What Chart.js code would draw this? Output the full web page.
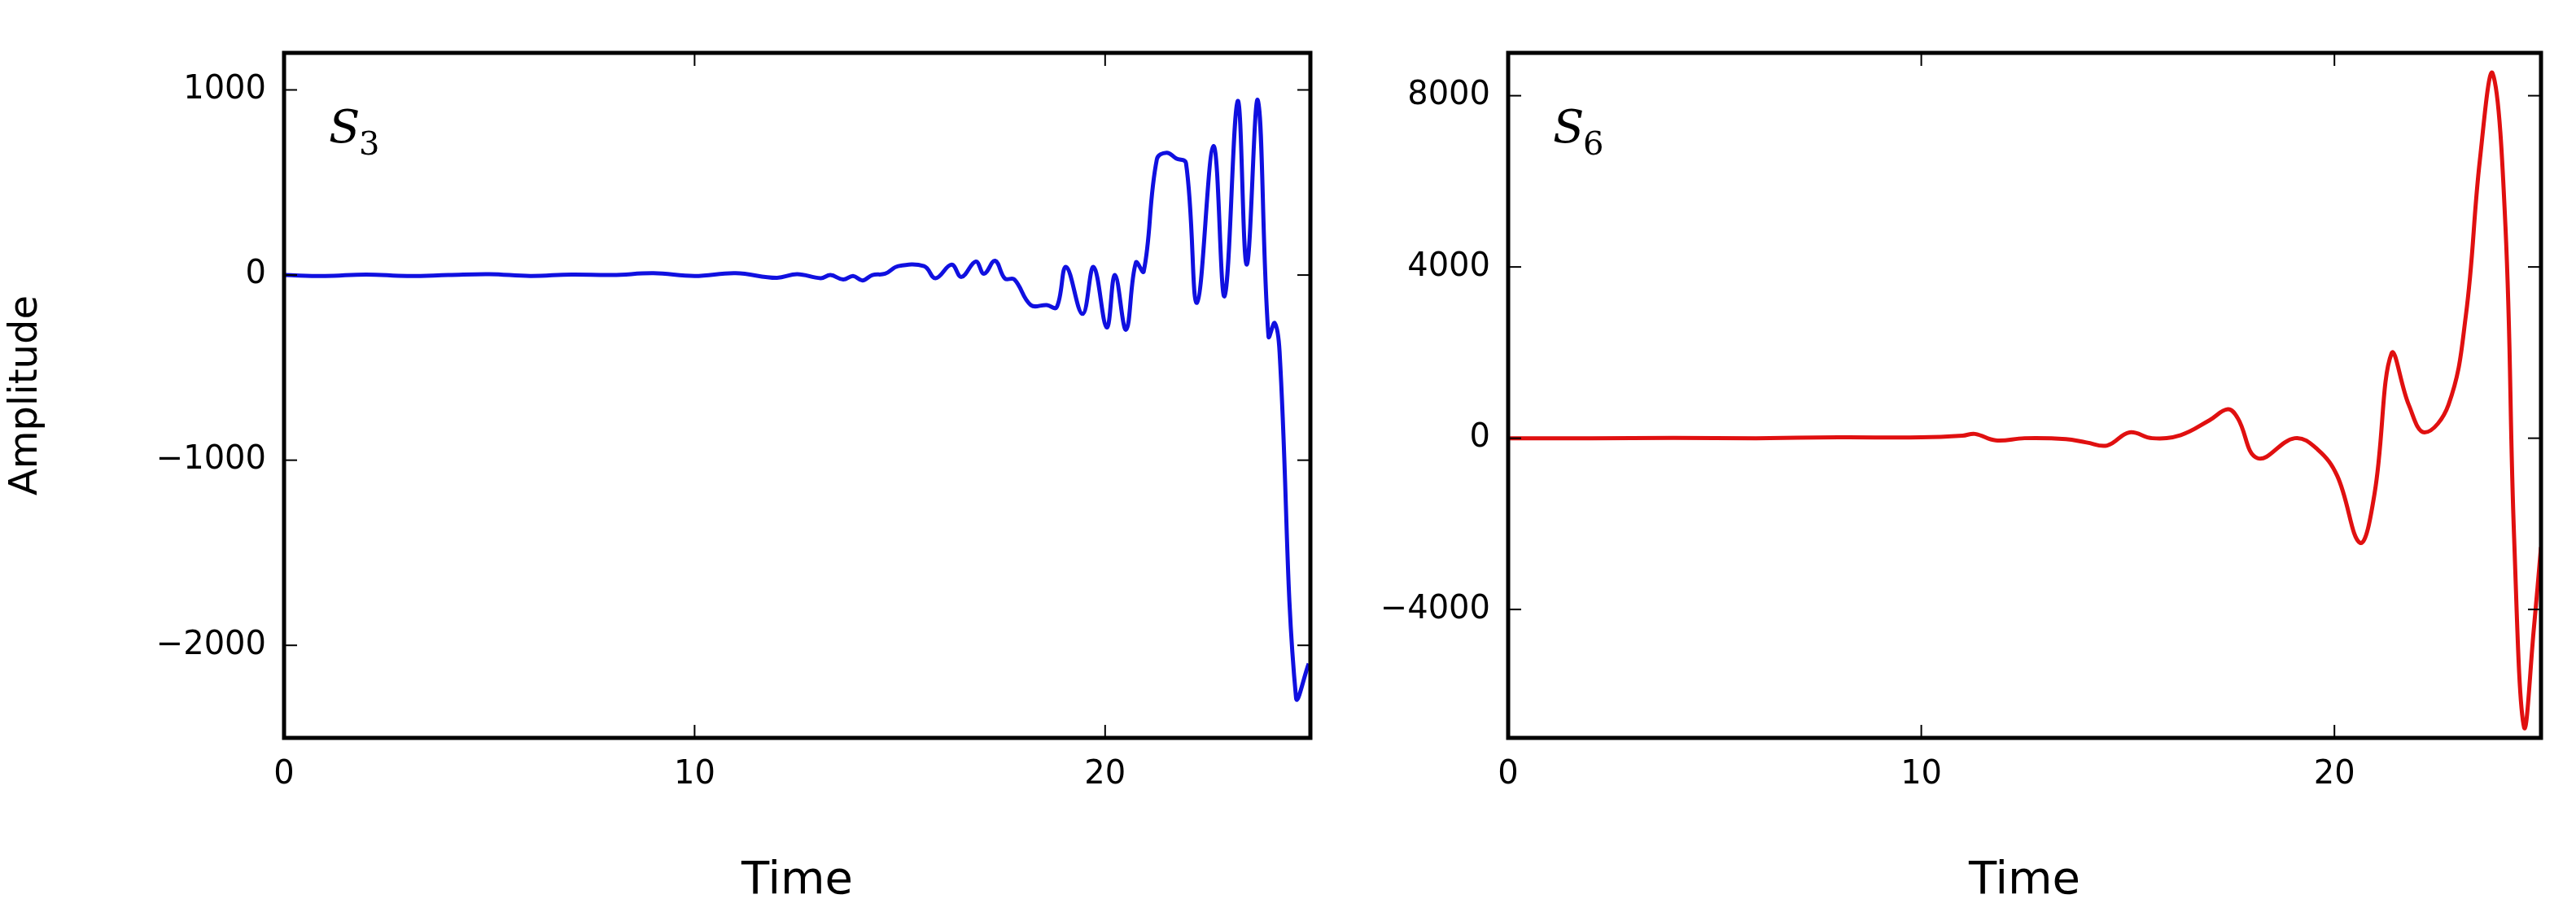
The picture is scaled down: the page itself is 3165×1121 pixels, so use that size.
<!DOCTYPE html>
<html>
<head>
<meta charset="utf-8">
<script src="https://cdn.jsdelivr.net/npm/chart.js@4.4.0/dist/chart.umd.min.js"></script>
<style>
  body { margin: 0; background: #fff; }
  .box { position: absolute; top: 0; height: 1121px; }
</style>
</head>
<body>
<div class="box" style="left:0;width:1680px"><canvas id="c1"></canvas></div>
<div class="box" style="left:1700px;width:1465px"><canvas id="c2"></canvas></div>
<script>
// datos
const timeS3 = [0, 1, 2, 3, 4, 5, 6, 7, 8, 9, 10, 11, 12, 12.5, 13.07, 13.31, 13.62, 13.86, 14.09, 14.33, 14.64, 14.96, 15.59, 15.87, 16.26, 16.5, 16.85, 17.05, 17.32, 17.56, 17.79, 18.19, 18.58, 18.82, 19.05, 19.45, 19.72, 20.04, 20.24, 20.51, 20.75, 20.94, 21.26, 21.5, 21.73, 21.97, 22.24, 22.64, 22.91, 23.23, 23.45, 23.72, 23.98, 24.13, 24.25, 24.65, 24.96];
const ampS3 = [0, -5, 3, -5, 0, 5, -5, 3, 0, 10, -5, 10, -15, 5, -17, 0, -24, -5, -29, 0, 7, 48, 48, -17, 56, -10, 73, 7, 77, -19, -24, -162, -162, -174, 44, -210, 44, -283, 0, -295, 68, 19, 625, 661, 630, 605, -150, 697, -114, 940, 56, 944, -332, -259, -416, -2281, -2099];

const timeS6 = [0, 2, 4, 6, 8, 10, 11, 11.3, 11.8, 12.5, 13.5, 14, 14.5, 15.04, 15.59, 16.28, 16.97, 17.42, 17.66, 18.14, 19.04, 19.59, 20.07, 20.62, 20.97, 21.38, 21.8, 22.18, 22.76, 23.18, 23.52, 23.83, 24.14, 24.35, 24.59, 24.83, 25];
const ampS6 = [0, 0, 5, 0, 20, 20, 60, 100, -50, 0, -20, -100, -170, 135, 0, 73, 416, 675, 468, -468, 0, -260, -883, -2442, -1300, 1974, 779, 135, 779, 2857, 6494, 8519, 4935, -2338, -6753, -4416, -2545];

const xTicks = [0, 10, 20];
const yTicksS3 = [-2000, -1000, 0, 1000];
const yTicksS6 = [-4000, 0, 4000, 8000];

const font = "'DejaVu Sans', sans-serif";

// marco negro y marcas hacia dentro, estilo matplotlib
const framePlugin = {
  id: 'frame',
  afterDatasetsDraw(chart, args, opts) {
    const { ctx, chartArea: a, scales } = chart;
    ctx.save();
    ctx.strokeStyle = '#000';
    ctx.lineWidth = 2;
    scales.x.ticks.forEach(t => {
      const px = scales.x.getPixelForValue(t.value);
      ctx.beginPath(); ctx.moveTo(px, a.bottom); ctx.lineTo(px, a.bottom - 16); ctx.stroke();
      ctx.beginPath(); ctx.moveTo(px, a.top); ctx.lineTo(px, a.top + 16); ctx.stroke();
    });
    scales.y.ticks.forEach(t => {
      const py = scales.y.getPixelForValue(t.value);
      ctx.beginPath(); ctx.moveTo(a.left, py); ctx.lineTo(a.left + 16, py); ctx.stroke();
      ctx.beginPath(); ctx.moveTo(a.right, py); ctx.lineTo(a.right - 16, py); ctx.stroke();
    });
    ctx.lineWidth = 5;
    ctx.strokeRect(a.left, a.top, a.right - a.left, a.bottom - a.top);
    // etiqueta S_n
    ctx.fillStyle = '#000';
    ctx.font = "italic 56px 'DejaVu Serif', serif";
    ctx.fillText('S', a.left + 55, a.top + 110);
    ctx.font = "40px 'DejaVu Serif', serif";
    ctx.fillText(opts.sub, a.left + 92, a.top + 125);
    ctx.restore();
  }
};

function makeChart(id, times, amps, color, yTicks, ymin, ymax, yWidth, rightPad, sub, yTitle) {
  const pts = times.map((t, i) => ({ x: t, y: amps[i] }));
  return new Chart(document.getElementById(id), {
    type: 'line',
    data: { datasets: [{ data: pts, borderColor: color, borderWidth: 5, pointRadius: 0, tension: 0.4, fill: false }] },
    plugins: [framePlugin],
    options: {
      responsive: true,
      maintainAspectRatio: false,
      animation: false,
      layout: { padding: { top: 65, right: rightPad, left: 0, bottom: 0 } },
      plugins: { legend: { display: false }, tooltip: { enabled: false }, frame: { sub: sub } },
      scales: {
        x: {
          type: 'linear', min: 0, max: 25,
          afterBuildTicks: s => { s.ticks = xTicks.map(v => ({ value: v })); },
          afterFit: s => { s.height = 214; },
          grid: { display: false },
          border: { display: false },
          ticks: { color: '#000', font: { family: font, size: 40 }, padding: 14 },
          title: { display: true, text: 'Time', color: '#000', font: { family: font, size: 56 }, padding: { top: 6 } }
        },
        y: {
          min: ymin, max: ymax,
          afterBuildTicks: s => { s.ticks = yTicks.map(v => ({ value: v })); },
          afterFit: s => { s.width = yWidth; },
          grid: { display: false },
          border: { display: false },
          ticks: { color: '#000', font: { family: font, size: 40 }, padding: 14,
                   callback: v => String(v).replace('-', '\u2212') },
          title: { display: !!yTitle, text: yTitle || '', color: '#000', font: { family: font, size: 48 } }
        }
      }
    }
  });
}

window.onload = () => {
  makeChart('c1', timeS3, ampS3, '#1010e0', yTicksS3, -2500, 1200, 349, 70, '3', 'Amplitude');
  makeChart('c2', timeS6, ampS6, '#e01010', yTicksS6, -7000, 9000, 153, 43, '6', '');
};
</script>
</body>
</html>
